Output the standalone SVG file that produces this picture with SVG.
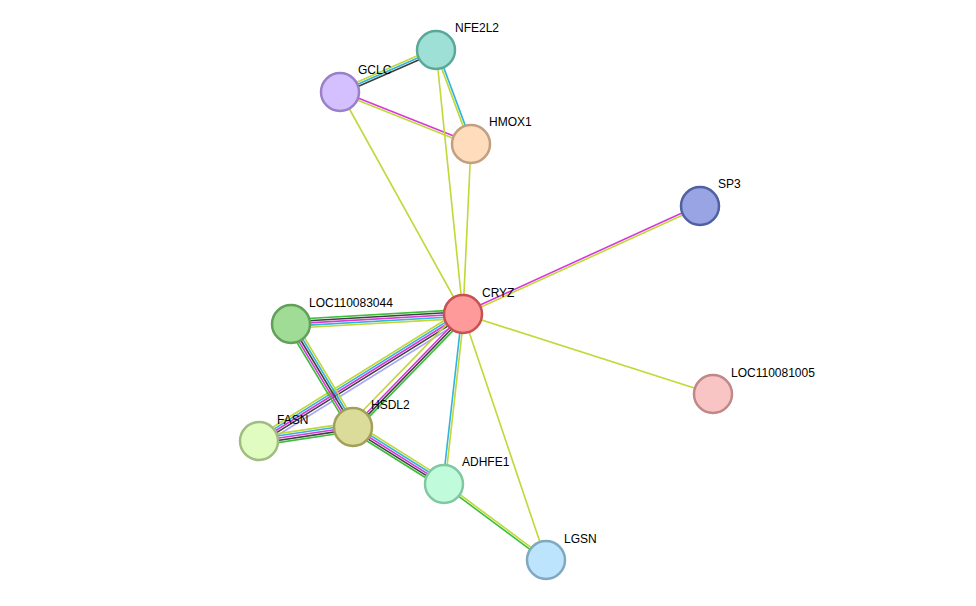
<svg xmlns="http://www.w3.org/2000/svg" width="976" height="606" viewBox="0 0 976 606">
<style>
line{stroke-width:1.6;fill:none}
.y{stroke:#c0d838}.c{stroke:#30b4dc}.m{stroke:#d838d8}.k{stroke:#404040}.g{stroke:#38c038}.l{stroke:#a8a8f8}
circle{stroke-width:2.5}
text{font-family:"Liberation Sans",Arial,sans-serif;font-size:12px;fill:#000}
</style>
<rect width="976" height="606" fill="#fff"/>
<g id="connectors">
<g transform="translate(463,314) rotate(176.7)"><line class="y" x1="0" y1="-4.4" x2="172.3" y2="-4.4"/><line class="c" x1="0" y1="-2.2" x2="172.3" y2="-2.2"/><line class="m" x1="0" y1="0" x2="172.3" y2="0"/><line class="k" x1="0" y1="2.2" x2="172.3" y2="2.2"/><line class="g" x1="0" y1="4.4" x2="172.3" y2="4.4"/></g>
<g transform="translate(463,314) rotate(148.1)"><line class="y" x1="0" y1="4.4" x2="240.3" y2="4.4"/><line class="c" x1="0" y1="2.2" x2="240.3" y2="2.2"/><line class="m" x1="0" y1="0" x2="240.3" y2="0"/><line class="k" x1="0" y1="-2.2" x2="240.3" y2="-2.2"/><line class="l" x1="0" y1="-5" x2="240.3" y2="-5"/></g>
<g transform="translate(463,314) rotate(134.2)"><line class="y" x1="0" y1="4.4" x2="157.7" y2="4.4"/><line class="m" x1="0" y1="0" x2="157.7" y2="0"/><line class="k" x1="0" y1="-2.2" x2="157.7" y2="-2.2"/><line class="g" x1="0" y1="-4.4" x2="157.7" y2="-4.4"/></g>
<g transform="translate(291,324) rotate(58.9)"><line class="g" x1="0" y1="4.4" x2="120.2" y2="4.4"/><line class="m" x1="0" y1="2.2" x2="120.2" y2="2.2"/><line class="k" x1="0" y1="0" x2="120.2" y2="0"/><line class="c" x1="0" y1="-2.2" x2="120.2" y2="-2.2"/><line class="y" x1="0" y1="-4.4" x2="120.2" y2="-4.4"/></g>
<g transform="translate(259,441) rotate(-8.5)"><line class="y" x1="0" y1="-4.4" x2="95" y2="-4.4"/><line class="c" x1="0" y1="-2.2" x2="95" y2="-2.2"/><line class="m" x1="0" y1="0" x2="95" y2="0"/><line class="k" x1="0" y1="2.2" x2="95" y2="2.2"/><line class="g" x1="0" y1="4.4" x2="95" y2="4.4"/></g>
<g transform="translate(353,427) rotate(32.1)"><line class="y" x1="0" y1="-4.4" x2="107.4" y2="-4.4"/><line class="c" x1="0" y1="-2.2" x2="107.4" y2="-2.2"/><line class="m" x1="0" y1="0" x2="107.4" y2="0"/><line class="k" x1="0" y1="2.2" x2="107.4" y2="2.2"/><line class="g" x1="0" y1="4.4" x2="107.4" y2="4.4"/></g>
<g transform="translate(463,314) rotate(96.4)"><line class="c" x1="0" y1="1.1" x2="171.1" y2="1.1"/><line class="y" x1="0" y1="-1.1" x2="171.1" y2="-1.1"/></g>
<g transform="translate(444,484) rotate(36.7)"><line class="y" x1="0" y1="-1.1" x2="127.2" y2="-1.1"/><line class="g" x1="0" y1="1.1" x2="127.2" y2="1.1"/></g>
<g transform="translate(463,314) rotate(-24.5)"><line class="m" x1="0" y1="-1.1" x2="260.4" y2="-1.1"/><line class="y" x1="0" y1="1.1" x2="260.4" y2="1.1"/></g>
<g transform="translate(436,50) rotate(69.6)"><line class="y" x1="0" y1="1.1" x2="100.3" y2="1.1"/><line class="c" x1="0" y1="-1.1" x2="100.3" y2="-1.1"/></g>
<g transform="translate(436,50) rotate(156.4)"><line class="y" x1="0" y1="2.2" x2="104.8" y2="2.2"/><line class="c" x1="0" y1="0" x2="104.8" y2="0"/><line class="k" x1="0" y1="-2.2" x2="104.8" y2="-2.2"/></g>
<g transform="translate(340,92) rotate(21.7)"><line class="m" x1="0" y1="-1.1" x2="141" y2="-1.1"/><line class="y" x1="0" y1="1.1" x2="141" y2="1.1"/></g>
<line class="y" x1="463" y1="314" x2="546" y2="560"/>
<line class="y" x1="463" y1="314" x2="713" y2="394"/>
<line class="y" x1="463" y1="314" x2="340" y2="92"/>
<line class="y" x1="463" y1="314" x2="436" y2="50"/>
<line class="y" x1="463" y1="314" x2="471" y2="144"/>
</g>
<g id="CRYZ"><circle cx="463" cy="314" r="19" fill="#ff9a9a" stroke="#c85050"/><text x="482" y="297">CRYZ</text></g>
<g id="NFE2L2"><circle cx="436" cy="50" r="19" fill="#9ee0d6" stroke="#5aa89a"/><text x="455" y="32">NFE2L2</text></g>
<g id="GCLC"><circle cx="340" cy="92" r="19" fill="#d4c0ff" stroke="#9a80c8"/><text x="358" y="74">GCLC</text></g>
<g id="HMOX1"><circle cx="471" cy="144" r="19" fill="#ffdcbc" stroke="#c0a080"/><text x="489" y="126">HMOX1</text></g>
<g id="SP3"><circle cx="700" cy="206" r="19" fill="#98a4e4" stroke="#5060a0"/><text x="718" y="188">SP3</text></g>
<g id="LOC110083044"><circle cx="291" cy="324" r="19" fill="#a0dc96" stroke="#60a058"/><text x="309" y="307">LOC110083044</text></g>
<g id="LOC110081005"><circle cx="713" cy="394" r="19" fill="#f8c4c4" stroke="#c08888"/><text x="731" y="377">LOC110081005</text></g>
<g id="FASN"><circle cx="259" cy="441" r="19" fill="#e0fcc0" stroke="#a0bc80"/><text x="277" y="424">FASN</text></g>
<g id="HSDL2"><circle cx="353" cy="427" r="19" fill="#dcdc9a" stroke="#a0a058"/><text x="371" y="409">HSDL2</text></g>
<g id="ADHFE1"><circle cx="444" cy="484" r="19" fill="#c0fcdc" stroke="#80c8a0"/><text x="462" y="466">ADHFE1</text></g>
<g id="LGSN"><circle cx="546" cy="560" r="19" fill="#bce4fc" stroke="#80a8c0"/><text x="564" y="543">LGSN</text></g>
</svg>
